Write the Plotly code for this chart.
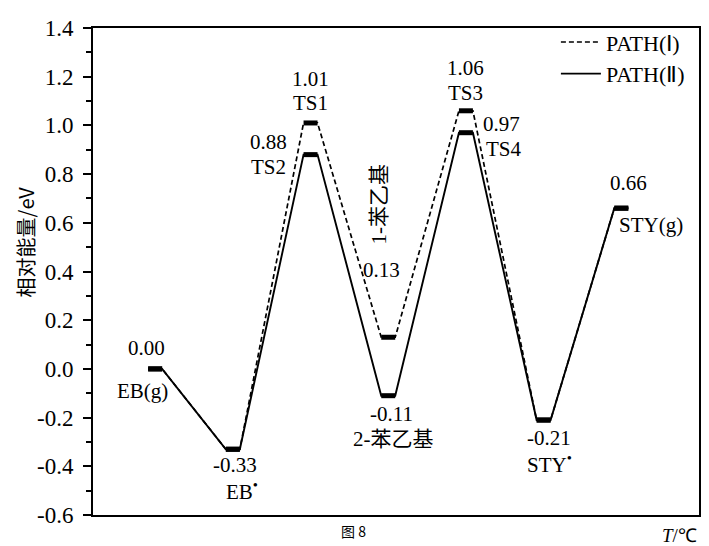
import plotly.graph_objects as go

# ---------------- data ----------------
stages = [0, 1, 2, 3, 4, 5, 6]
path1_energy = [0.00, -0.33, 1.01, 0.13, 1.06, -0.21, 0.66]
path2_energy = [0.00, -0.33, 0.88, -0.11, 0.97, -0.21, 0.66]
path1_names = ["EB(g)", "EB<sup>•</sup>", "TS1", "1-苯乙基", "TS3", "STY<sup>•</sup>", "STY(g)"]
path2_names = ["EB(g)", "EB<sup>•</sup>", "TS2", "2-苯乙基", "TS4", "STY<sup>•</sup>", "STY(g)"]
path_labels = ["PATH(Ⅰ)", "PATH(Ⅱ)"]
y_ticks = [-0.6, -0.4, -0.2, 0.0, 0.2, 0.4, 0.6, 0.8, 1.0, 1.2, 1.4]
y_title = "相对能量/eV"
x_title = "<i>T</i>/℃"
caption = "图 8"

# ---------------- styling ----------------
HW = 0.09  # half width of each energy platform (x units)
SERIF = "Liberation Serif"
CJK = "Noto Sans CJK SC"
LFS = 21


def path_xy(energy):
    xs, ys = [], []
    for s, e in zip(stages, energy):
        xs += [s - HW, s + HW]
        ys += [e, e]
    return xs, ys


def bars_xy(energy):
    xs, ys = [], []
    for s, e in zip(stages, energy):
        xs += [s - HW, s + HW, None]
        ys += [e, e, None]
    return xs, ys


fig = go.Figure()

x1, y1 = path_xy(path1_energy)
fig.add_trace(go.Scatter(x=x1, y=y1, mode="lines", name=path_labels[0],
                         line=dict(color="black", width=1.7, dash="5px,3px")))
x2, y2 = path_xy(path2_energy)
fig.add_trace(go.Scatter(x=x2, y=y2, mode="lines", name=path_labels[1],
                         line=dict(color="black", width=1.9)))

for en in (path1_energy, path2_energy):
    bx, by = bars_xy(en)
    fig.add_trace(go.Scatter(x=bx, y=by, mode="lines", showlegend=False,
                             hoverinfo="skip", line=dict(color="black", width=5)))

# label offsets (pixels): value label (dx, dy), name label (dx, dy); dy positive = downward
shared = {0: ((-9, -21), (-13, 22)),
          1: ((2, 16), (9, 41)),
          5: ((5, 18), (6, 43)),
          6: ((7, -25), (30, 17))}
p1_off = {2: ((0, -44), (0, -20)),
          3: ((-7, -67), (-9, -133)),
          4: ((0, -43), (0, -18))}
p2_off = {2: ((-42, -13), (-42, 12)),
          3: ((3, 18), (5, 43)),
          4: ((36, -9), (38, 16))}

annotations = []


def add_lbl(s, e, text, off, angle=0, family=SERIF):
    annotations.append(dict(x=s, y=e, xref="x", yref="y", text=text, showarrow=False,
                            xshift=off[0], yshift=-off[1], textangle=angle,
                            font=dict(family=family, size=LFS, color="black")))


for i, s in enumerate(stages):
    e1, e2 = path1_energy[i], path2_energy[i]
    if i in shared:
        voff, noff = shared[i]
        add_lbl(s, e1, f"{e1:.2f}", voff)
        add_lbl(s, e1, path1_names[i], noff)
    if i in p1_off:
        voff, noff = p1_off[i]
        add_lbl(s, e1, f"{e1:.2f}", voff)
        if i == 3:
            add_lbl(s, e1, path1_names[i], noff, angle=-90, family=SERIF + ", " + CJK)
        else:
            add_lbl(s, e1, path1_names[i], noff)
    if i in p2_off:
        voff, noff = p2_off[i]
        add_lbl(s, e2, f"{e2:.2f}", voff)
        fam = SERIF + ", " + CJK if i == 3 else SERIF
        add_lbl(s, e2, path2_names[i], noff, family=fam)

# y-axis title, T/℃ and caption
annotations.append(dict(x=-0.112, y=0.56, xref="paper", yref="paper", xanchor="center",
                        yanchor="middle", text=y_title, textangle=-90, showarrow=False,
                        font=dict(family=CJK, size=20, color="black")))
annotations.append(dict(x=1.0, y=-0.042, xref="paper", yref="paper", xanchor="right",
                        yanchor="middle", text=x_title, showarrow=False,
                        font=dict(family=SERIF, size=19, color="black")))
annotations.append(dict(x=0.43, y=-0.058, xref="paper", yref="paper", xanchor="center",
                        yanchor="bottom", text=caption, showarrow=False,
                        font=dict(family=CJK, size=14, color="black")))

# page body has an 8px margin, so the figure is drawn 8px in from the top-left
fig.update_layout(
    width=701, height=538,
    margin=dict(l=85, r=8, t=13, b=31),
    paper_bgcolor="white", plot_bgcolor="white",
    annotations=annotations,
    legend=dict(x=0.985, y=1.014, xanchor="right", yanchor="top",
                bgcolor="rgba(0,0,0,0)", font=dict(family=SERIF, size=22, color="black"),
                tracegroupgap=0, itemwidth=40),
    showlegend=True,
)
fig.update_xaxes(range=[-0.8, 7.0], showticklabels=False, ticks="", showgrid=False,
                 zeroline=False, showline=True, linewidth=2, linecolor="black", mirror=True)
fig.update_yaxes(range=[-0.6, 1.4], tickvals=y_ticks, ticktext=[f"{v:.1f}" for v in y_ticks],
                 ticks="outside", ticklen=8, tickwidth=1.5, tickcolor="black",
                 minor=dict(dtick=0.1, tick0=0, ticks="outside", ticklen=5, tickwidth=1.5,
                            tickcolor="black", showgrid=False),
                 ticklabelstandoff=5,
                 showgrid=False, zeroline=False, showline=True, linewidth=2,
                 linecolor="black", mirror=True,
                 tickfont=dict(family=SERIF, size=23, color="black"))

fig.write_html("out.html")
